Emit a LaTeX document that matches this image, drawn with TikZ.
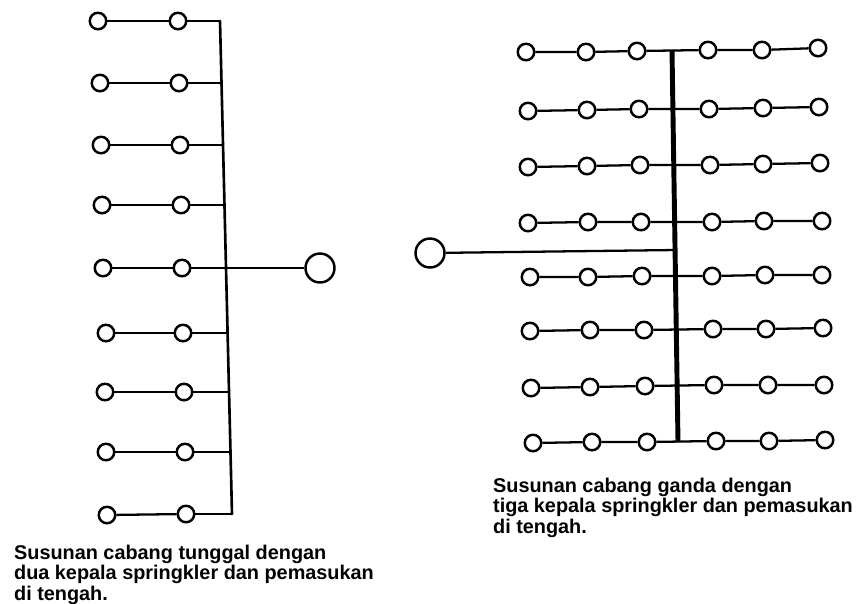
\documentclass[tikz,border=0pt]{standalone}
\usepackage{fontspec}
\setmainfont{Liberation Sans}
\usepackage{tikz}

\begin{document}
\begin{tikzpicture}[x=0.02cm,y=-0.02cm,line width=1.3pt]
            \useasboundingbox (0,0) rectangle (858,603);
            \tikzset{caption/.style={anchor=north west,align=left,inner sep=0pt,font=\fontsize{11.3}{11.6}\selectfont\bfseries}}
            % left side
            \begin{scope}[every node/.style={circle,draw=black,fill=white,line width=1.4pt,minimum size=3.3mm,inner sep=0pt}]
                \node (a1) at (98,21) {};
                \node (b1) at (178,21) {};
                \node (a2) at (100,83) {};
                \node (b2) at (179,83) {};
                \node (a3) at (101,145) {};
                \node (b3) at (180,145) {};
                \node (a4) at (102,205) {};
                \node (b4) at (181,205) {};
                \node (a5) at (103,268) {};
                \node (b5) at (182,268) {};
                \node (a6) at (106,333) {};
                \node (b6) at (183,333) {};
                \node (a7) at (105,392) {};
                \node (b7) at (184,392) {};
                \node (a8) at (106,452) {};
                \node (b8) at (185,452) {};
                \node (a9) at (107,515) {};
                \node (b9) at (186,514) {};
                \node[minimum size=5.8mm] (inl) at (320,268) {};
            \end{scope}
            \coordinate (l1) at (220,21);
            \coordinate (l2) at (222,83);
            \coordinate (l3) at (223,145);
            \coordinate (l4) at (224,205);
            \coordinate (l5) at (226,268);
            \coordinate (l6) at (228,333);
            \coordinate (l7) at (229,392);
            \coordinate (l8) at (231,452);
            \coordinate (l9) at (232,514);
            \draw (a1) -- (b1);
            \draw (b1) -- (l1);
            \draw (a2) -- (b2);
            \draw (b2) -- (l2);
            \draw (a3) -- (b3);
            \draw (b3) -- (l3);
            \draw (a4) -- (b4);
            \draw (b4) -- (l4);
            \draw (a5) -- (b5);
            \draw (b5) -- (inl);
            \draw (a6) -- (b6);
            \draw (b6) -- (l6);
            \draw (a7) -- (b7);
            \draw (b7) -- (l7);
            \draw (a8) -- (b8);
            \draw (b8) -- (l8);
            \draw (a9) -- (b9);
            \draw (b9) -- (l9);
            \draw[line width=1.5pt,line cap=round] (l1) -- (l9);
            \node[caption] (capl) at (13,544) {Susunan cabang tunggal dengan\\dua kepala springkler dan pemasukan\\di tengah.};
            % right side
            \begin{scope}[every node/.style={circle,draw=black,fill=white,line width=1.4pt,minimum size=3.3mm,inner sep=0pt}]
                \node (c1) at (526,52) {};
                \node (d1) at (586,52) {};
                \node (e1) at (637,51) {};
                \node (f1) at (708,50) {};
                \node (g1) at (762,50) {};
                \node (h1) at (818,48) {};
                \node (c2) at (528,111) {};
                \node (d2) at (587,110) {};
                \node (e2) at (639,109) {};
                \node (f2) at (709,109) {};
                \node (g2) at (763,108) {};
                \node (h2) at (819,107) {};
                \node (c3) at (528,167) {};
                \node (d3) at (587,166) {};
                \node (e3) at (640,165) {};
                \node (f3) at (710,165) {};
                \node (g3) at (763,164) {};
                \node (h3) at (820,163) {};
                \node (c4) at (528,223) {};
                \node (d4) at (588,222) {};
                \node (e4) at (641,222) {};
                \node (f4) at (712,222) {};
                \node (g4) at (764,221) {};
                \node (h4) at (822,221) {};
                \node (c5) at (530,277) {};
                \node (d5) at (588,277) {};
                \node (e5) at (642,276) {};
                \node (f5) at (712,276) {};
                \node (g5) at (765,275) {};
                \node (h5) at (822,275) {};
                \node (c6) at (530,331) {};
                \node (d6) at (590,330) {};
                \node (e6) at (644,330) {};
                \node (f6) at (713,329) {};
                \node (g6) at (766,329) {};
                \node (h6) at (823,328) {};
                \node (c7) at (531,388) {};
                \node (d7) at (590,387) {};
                \node (e7) at (645,386) {};
                \node (f7) at (714,385) {};
                \node (g7) at (768,385) {};
                \node (h7) at (824,385) {};
                \node (c8) at (533,443) {};
                \node (d8) at (592,442) {};
                \node (e8) at (647,442) {};
                \node (f8) at (716,441) {};
                \node (g8) at (769,441) {};
                \node (h8) at (825,440) {};
                \node[minimum size=5.8mm] (inr) at (430,253) {};
            \end{scope}
            \coordinate (top) at (672,50);
            \coordinate (mid) at (676,250);
            \coordinate (bot) at (678,442);
            \draw (c1) -- (d1) -- (e1) -- (f1) -- (g1) -- (h1);
            \draw (c2) -- (d2) -- (e2) -- (f2) -- (g2) -- (h2);
            \draw (c3) -- (d3) -- (e3) -- (f3) -- (g3) -- (h3);
            \draw (c4) -- (d4) -- (e4) -- (f4) -- (g4) -- (h4);
            \draw (c5) -- (d5) -- (e5) -- (f5) -- (g5) -- (h5);
            \draw (c6) -- (d6) -- (e6) -- (f6) -- (g6) -- (h6);
            \draw (c7) -- (d7) -- (e7) -- (f7) -- (g7) -- (h7);
            \draw (c8) -- (d8) -- (e8) -- (f8) -- (g8) -- (h8);
            \draw (inr) -- (mid);
            \draw[line width=2.8pt] (top) -- (bot);
            \node[caption] (capr) at (492,477) {Susunan cabang ganda dengan\\tiga kepala springkler dan pemasukan\\di tengah.};
        \end{tikzpicture}
\end{document}
